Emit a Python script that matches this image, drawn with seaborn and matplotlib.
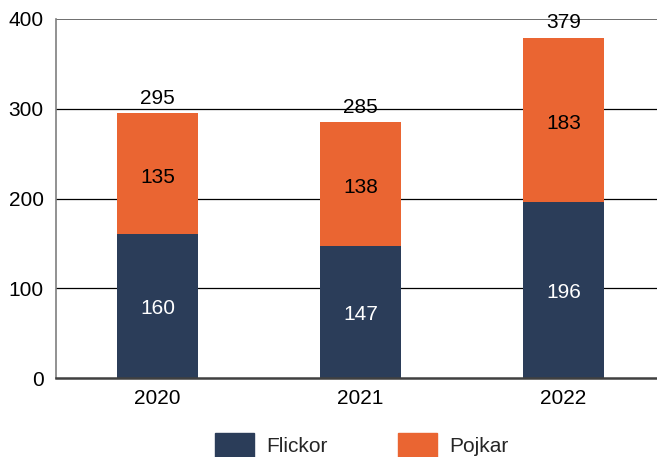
import matplotlib
matplotlib.use("Agg")
import matplotlib.pyplot as plt
import seaborn as sns
import pandas as pd
from matplotlib.patches import Patch

years = ["2020", "2021", "2022"]
flickor = [160, 147, 196]
pojkar = [135, 138, 183]
totals = [f + p for f, p in zip(flickor, pojkar)]

navy = "#2B3D59"
orange = "#EA6532"

sns.set_theme(style="white")
plt.rcParams["font.family"] = ["Liberation Sans", "DejaVu Sans"]

fig = plt.figure(figsize=(6.57, 4.57), dpi=100)
ax = fig.add_axes([56/657, 79/457, 609/657, 359/457])

df = pd.DataFrame({"year": years, "Flickor": flickor, "Pojkar": pojkar, "Total": totals})

sns.barplot(data=df, x="year", y="Total", color=orange, width=0.40, ax=ax,
            saturation=1, zorder=3, linewidth=0, edgecolor="none")
sns.barplot(data=df, x="year", y="Flickor", color=navy, width=0.40, ax=ax,
            saturation=1, zorder=3, linewidth=0, edgecolor="none")

ax.set_xlim(-0.5, 2.5)
ax.set_ylim(0, 400)
ax.set_yticks([0, 100, 200, 300, 400])
ax.set_xlabel("")
ax.set_ylabel("")

for y in [100, 200, 300]:
    ax.axhline(y, color="black", lw=0.9, zorder=1)
ax.axhline(400, color="#555555", lw=1.2, zorder=1)

for s in ["top", "right"]:
    ax.spines[s].set_visible(False)
ax.spines["left"].set_color("#7f7f7f")
ax.spines["left"].set_linewidth(1.2)
ax.spines["bottom"].set_color("#404040")
ax.spines["bottom"].set_linewidth(1.8)
ax.spines["bottom"].set_zorder(4)

fs = 15
ax.tick_params(axis="y", length=0, pad=9, labelsize=fs, labelcolor="black")
ax.tick_params(axis="x", which="major", length=0, pad=8, labelsize=fs, labelcolor="black")
ax.set_xticks([0.5, 1.5], minor=True)
ax.tick_params(axis="x", which="minor", direction="in", length=7, width=1, color="#404040")

for i in range(len(years)):
    ax.text(i, flickor[i] / 2 - 3, str(flickor[i]), ha="center", va="center",
            color="white", fontsize=fs, zorder=5)
    ax.text(i, flickor[i] + pojkar[i] / 2 - 4, str(pojkar[i]), ha="center", va="center",
            color="black", fontsize=fs, zorder=5)
    ax.text(i, totals[i] + 6, str(totals[i]), ha="center", va="bottom",
            color="black", fontsize=fs, zorder=5)

handles = [Patch(color=navy, label="Flickor"), Patch(color=orange, label="Pojkar")]
fig.legend(handles=handles, loc="center", bbox_to_anchor=(0.551, 12/457), ncol=2,
           frameon=False, fontsize=fs, handlelength=1.87, handleheight=1.4,
           handletextpad=0.58, columnspacing=3.4, borderaxespad=0)

fig.savefig("out.png", dpi=100)
